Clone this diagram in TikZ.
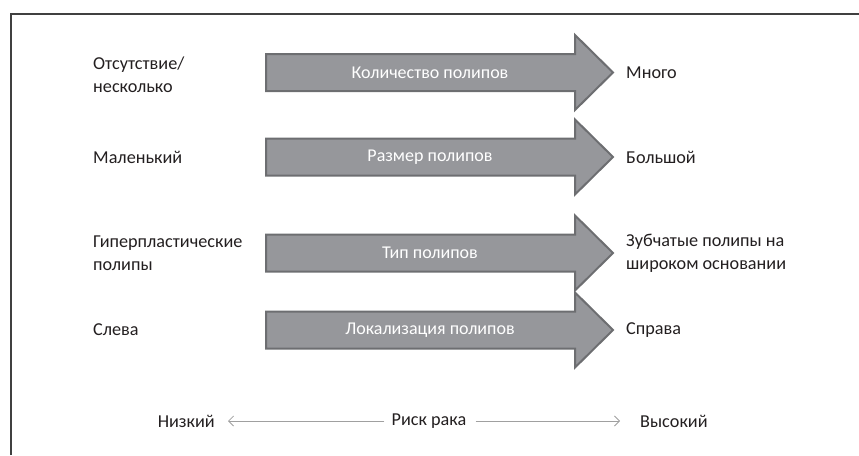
\documentclass[tikz,border=0pt]{standalone}
\usepackage{fontspec}
\setmainfont{Carlito}
\usetikzlibrary{arrows.meta}
\definecolor{arrfill}{HTML}{96979B}
\definecolor{arrdraw}{HTML}{6D6E71}
\definecolor{txt}{HTML}{231F20}
\definecolor{frame}{HTML}{404040}
\definecolor{riskline}{HTML}{A0A0A0}
\tikzset{
  lbl/.style={anchor=west,align=left,text=txt,font=\fontsize{18.2}{23}\selectfont,inner sep=0pt},
  intxt/.style={text=white,font=\fontsize{18}{22}\selectfont,inner sep=0pt},
  bigarrow/.style={fill=arrfill,draw=arrdraw,line width=2pt,line join=miter},
  risk/.style={draw=riskline,line width=0.8pt,-{Straight Barb[length=5pt,width=10pt]}}
}
\newcommand{\bigarr}[1]{%
  \draw[bigarrow] (266,#1+18.5) -- (575,#1+18.5) -- (575,#1+37.5) -- (613,#1) --
    (575,#1-37.5) -- (575,#1-18.5) -- (266,#1-18.5) -- cycle;}
\begin{document}
\begin{tikzpicture}[x=1pt,y=-1pt]
\useasboundingbox (0,0) rectangle (859,455);
\draw[frame,line width=1.5pt] (11,455) -- (11,14) -- (859,14);
% arrows
\bigarr{72.5}
\bigarr{157}
\bigarr{253}
\bigarr{330}
\node[intxt] (a1) at (430,72.5) {Количество полипов};
\node[intxt] (a2) at (430,157) {Размер полипов};
\node[intxt] (a3) at (430,253) {Тип полипов};
\node[intxt] (a4) at (430,330) {Локализация полипов};
% left labels
\node[lbl] (l1) at (93,74.5) {Отсутствие/\\несколько};
\node[lbl] (l2) at (93,157) {Маленький};
\node[lbl] (l3) at (93,253) {Гиперпластические\\полипы};
\node[lbl] (l4) at (93,330) {Слева};
% right labels
\node[lbl] (r1) at (626,72.5) {Много};
\node[lbl] (r2) at (626,157) {Большой};
\node[lbl] (r3) at (626,253) {Зубчатые полипы на\\широком основании};
\node[lbl] (r4) at (626,330) {Справа};
% risk axis
\node[lbl,anchor=center] (risk) at (429,421) {Риск рака};
\node[lbl,anchor=east] (low) at (215,421) {Низкий};
\node[lbl] (high) at (640,421) {Высокий};
\coordinate (lowend) at (228,421);
\coordinate (highend) at (620,421);
\draw[risk] (risk.west) ++(-7,0) -- (lowend);
\draw[risk] (risk.east) ++(9,0) -- (highend);
\end{tikzpicture}
\end{document}
